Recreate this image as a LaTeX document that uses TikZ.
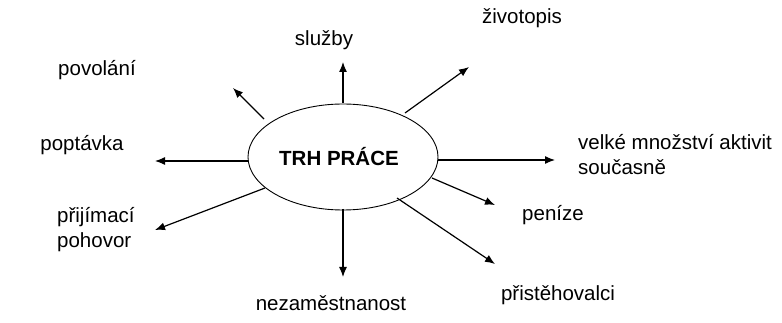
\documentclass[tikz,border=0pt]{standalone}
\usepackage{fontspec}
\setmainfont{Liberation Sans}
\usetikzlibrary{arrows.meta,shapes.geometric}
\begin{document}
\begin{tikzpicture}[x=1pt,y=-1pt,
  lbl/.style={inner sep=0pt,font=\fontsize{20.5}{25}\selectfont,align=left},
  arr/.style={line width=1.2pt,-{Latex[length=10pt,width=8pt]}},
  hub/.style={ellipse,draw,line width=0.9pt,minimum width=190pt,minimum height=106pt,inner sep=0pt}]
\useasboundingbox (0,0) rectangle (782,323);
\node[hub] (e) at (343,157) {};
\node[inner sep=0pt,font=\fontsize{20.5}{25}\selectfont\bfseries] (t) at (339,157) {TRH PRÁCE};
% labels
\node[lbl] (sl) at (324,40) {služby};
\node[lbl] (zi) at (522,18) {životopis};
\node[lbl] (po) at (97,70) {povolání};
\node[lbl] (pp) at (82,145) {poptávka};
\node[lbl,anchor=west] (pr) at (57,230) {přijímací\\pohovor};
\node[lbl] (ne) at (331,303) {nezaměstnanost};
\node[lbl] (ps) at (558,295) {přistěhovalci};
\node[lbl] (pe) at (553,215) {peníze};
\node[lbl,anchor=west] (ve) at (578,155) {velké množství aktivit\\současně};
% connector ends
\coordinate (a1) at (343,103); \coordinate (b1) at (343,62);
\coordinate (a2) at (405,113); \coordinate (b2) at (469,67);
\coordinate (a3) at (264,119); \coordinate (b3) at (233,88);
\coordinate (a4) at (248,161); \coordinate (b4) at (155,161);
\coordinate (a5) at (265,188); \coordinate (b5) at (155,230);
\coordinate (a6) at (343,209); \coordinate (b6) at (343,277);
\coordinate (a7) at (397,198); \coordinate (b7) at (495,264);
\coordinate (a8) at (432,178); \coordinate (b8) at (495,205);
\coordinate (a9) at (438,160); \coordinate (b9) at (555,160);
\foreach \i in {1,...,9} {\draw[arr] (a\i) -- (b\i);}
\end{tikzpicture}
\end{document}
